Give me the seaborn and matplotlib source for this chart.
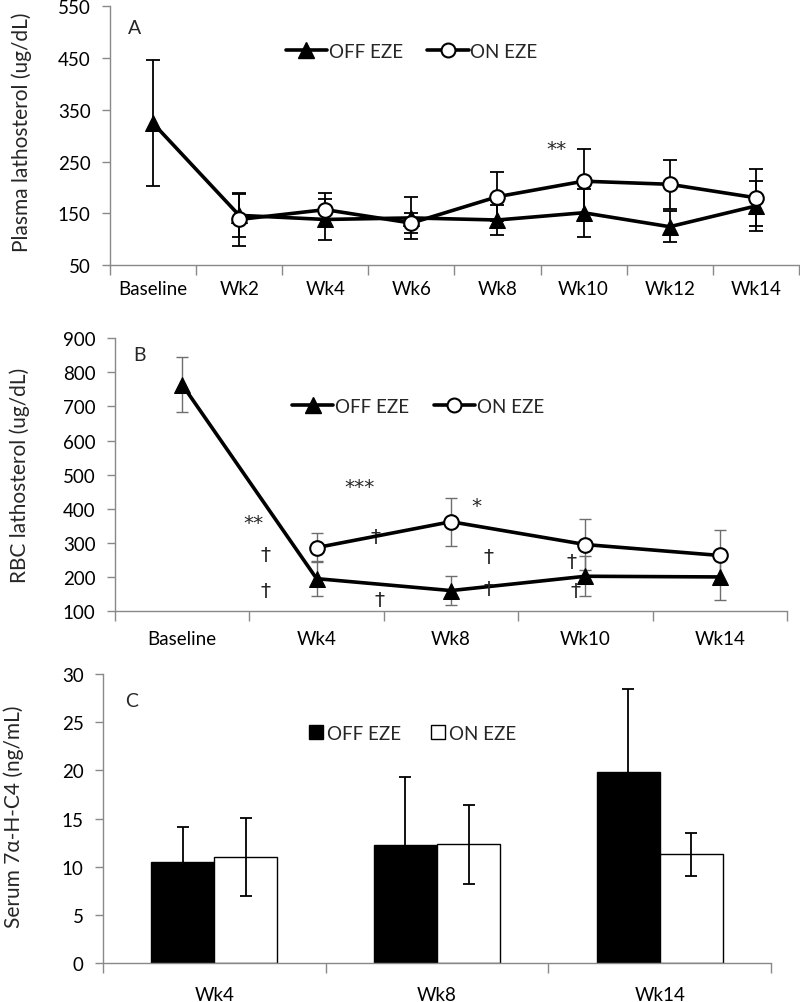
import numpy as np
import pandas as pd
import matplotlib
matplotlib.use("Agg")
import matplotlib.pyplot as plt
import seaborn as sns
from matplotlib.lines import Line2D
from matplotlib.patches import Patch
from matplotlib.ticker import FixedLocator, NullFormatter

# ---------------- data ----------------
A_weeks = ["Baseline", "Wk2", "Wk4", "Wk6", "Wk8", "Wk10", "Wk12", "Wk14"]
A_off = [324, 146, 138, 141, 137, 151, 124, 164]
A_off_err = [122, 42, 40, 40, 29, 46, 30, 49]
A_on = [np.nan, 138, 157, 131, 182, 212, 206, 180]
A_on_err = [np.nan, 51, 32, 20, 47, 63, 47, 55]
A_ann_text = ["**"]
A_ann_x = [4.69]
A_ann_y = [276]

B_weeks = ["Baseline", "Wk4", "Wk8", "Wk10", "Wk14"]
B_off = [764, 195, 160, 202, 200]
B_off_err = [80, 51, 42, 58, 69]
B_on = [np.nan, 286, 362, 295, 263]
B_on_err = [np.nan, 43, 70, 76, 75]
B_ann_text = ["**", "†", "†", "***", "†", "†", "*", "†", "†", "†", "†"]
B_ann_x = [0.53, 0.62, 0.62, 1.32, 1.44, 1.47, 2.19, 2.28, 2.28, 2.90, 2.93]
B_ann_y = [361, 266, 159, 466, 320, 134, 410, 261, 166, 244, 161]

C_weeks = ["Wk4", "Wk8", "Wk14"]
C_off = [10.47, 12.30, 19.88]
C_off_err = [3.70, 7.05, 8.57]
C_on = [10.99, 12.34, 11.30]
C_on_err = [4.05, 4.08, 2.22]

series_names = ["OFF EZE", "ON EZE"]

# ---------------- style ----------------
sns.set_style("white")
plt.rcParams["font.family"] = ["Lato", "DejaVu Sans"]
GRAY = "#898989"
FS = 13.5
LFS = 15
SYM_FONT = ["DejaVu Sans"]
SYM_FS = 14.5

fig = plt.figure(figsize=(8, 10.03), dpi=100)
axA = fig.add_axes([0.1375, 0.7348, 0.861, 0.2579])
axB = fig.add_axes([0.14375, 0.3898, 0.84, 0.2719])
axC = fig.add_axes([0.12875, 0.0386, 0.835, 0.2884])


def style_axis(ax, cats, ylim, yticks, xpad):
    ax.set_xlim(-0.5, len(cats) - 0.5)
    ax.set_ylim(*ylim)
    ax.set_yticks(yticks)
    ax.xaxis.set_major_locator(FixedLocator(np.arange(len(cats) + 1) - 0.5))
    ax.xaxis.set_major_formatter(NullFormatter())
    ax.xaxis.set_minor_locator(FixedLocator(np.arange(len(cats))))
    ax.set_xticklabels(cats, minor=True)
    ax.tick_params(axis="x", which="major", direction="out", length=7, width=1,
                   color=GRAY, bottom=True)
    ax.tick_params(axis="x", which="minor", length=0, bottom=True, labelbottom=True,
                   pad=xpad, labelsize=FS, labelcolor="black")
    ax.tick_params(axis="y", direction="out", length=6, width=1, color=GRAY,
                   left=True, pad=8, labelsize=FS, labelcolor="black")
    for s in ["top", "right"]:
        ax.spines[s].set_visible(False)
    for s in ["left", "bottom"]:
        ax.spines[s].set_color(GRAY)
        ax.spines[s].set_linewidth(1)
    ax.grid(False)


def line_panel(ax, cats, off, off_err, on, on_err, ebcolor, eblw, cap):
    x = np.arange(len(cats))
    off = np.array(off, float); on = np.array(on, float)
    m_off = ~np.isnan(off); m_on = ~np.isnan(on)
    ax.errorbar(x[m_off], off[m_off], yerr=np.array(off_err, float)[m_off], fmt="none",
                ecolor=ebcolor, elinewidth=eblw, capsize=cap, capthick=eblw, zorder=1.5)
    ax.errorbar(x[m_on], on[m_on], yerr=np.array(on_err, float)[m_on], fmt="none",
                ecolor=ebcolor, elinewidth=eblw, capsize=cap, capthick=eblw, zorder=1.5)
    sns.lineplot(x=x[m_off], y=off[m_off], ax=ax, color="black", linewidth=2.6,
                 marker="^", markersize=11, markerfacecolor="black",
                 markeredgecolor="black", zorder=3, legend=False)
    sns.lineplot(x=x[m_on], y=on[m_on], ax=ax, color="black", linewidth=2.6,
                 marker="o", markersize=10.5, markerfacecolor="white",
                 markeredgecolor="black", markeredgewidth=1.5, zorder=4, legend=False)
    handles = [
        Line2D([0], [0], color="black", lw=2.6, marker="^", markersize=11,
               markerfacecolor="black", markeredgecolor="black"),
        Line2D([0], [0], color="black", lw=2.6, marker="o", markersize=10,
               markerfacecolor="white", markeredgecolor="black", markeredgewidth=1.5),
    ]
    return handles


# ---------------- Panel A ----------------
hA = line_panel(axA, A_weeks, A_off, A_off_err, A_on, A_on_err, "black", 1.3, 5)
style_axis(axA, A_weeks, (50, 550), np.arange(50, 551, 100), 11)
axA.legend(hA, series_names, loc="center", bbox_to_anchor=(0.438, 0.826), ncol=2,
           frameon=False, fontsize=FS, handlelength=2.2, handletextpad=0.1,
           columnspacing=1.3)
axA.set_ylabel("Plasma lathosterol (ug/dL)", fontsize=LFS)
axA.yaxis.set_label_coords(-0.113, 0.517)
axA.text(0.036, 0.919, "A", transform=axA.transAxes, fontsize=14, ha="center", va="center")
for t, xx, yy in zip(A_ann_text, A_ann_x, A_ann_y):
    axA.text(xx, yy, t, fontsize=SYM_FS, family=SYM_FONT, ha="center", va="center")

# ---------------- Panel B ----------------
hB = line_panel(axB, B_weeks, B_off, B_off_err, B_on, B_on_err, "#6e6e6e", 1.0, 4.5)
style_axis(axB, B_weeks, (100, 900), np.arange(100, 901, 100), 14)
axB.legend(hB, series_names, loc="center", bbox_to_anchor=(0.451, 0.751), ncol=2,
           frameon=False, fontsize=FS, handlelength=2.2, handletextpad=0.1,
           columnspacing=1.3)
axB.set_ylabel("RBC lathosterol (ug/dL)", fontsize=LFS)
axB.yaxis.set_label_coords(-0.127, 0.50)
axB.text(0.037, 0.941, "B", transform=axB.transAxes, fontsize=14, ha="center", va="center")
for t, xx, yy in zip(B_ann_text, B_ann_x, B_ann_y):
    axB.text(xx, yy, t, fontsize=SYM_FS, family=SYM_FONT, ha="center", va="center")

# ---------------- Panel C ----------------
dfC = pd.DataFrame({
    "week": C_weeks * 2,
    "value": C_off + C_on,
    "group": [series_names[0]] * len(C_weeks) + [series_names[1]] * len(C_weeks),
})
sns.barplot(data=dfC, x="week", y="value", hue="group", order=C_weeks,
            hue_order=series_names, palette=["black", "white"], edgecolor="black",
            linewidth=1.0, width=0.566, gap=0, errorbar=None, ax=axC, legend=False,
            saturation=1)
bars = [p for p in axC.patches]
errs = C_off_err + C_on_err
for p, e in zip(bars, errs):
    cx = p.get_x() + p.get_width() / 2
    axC.errorbar([cx], [p.get_height()], yerr=[e], fmt="none", ecolor="black",
                 elinewidth=1.3, capsize=4.5, capthick=1.3, zorder=3)
style_axis(axC, C_weeks, (0, 30), np.arange(0, 31, 5), 16)
axC.set_xlabel("")
hC = [Patch(facecolor="black", edgecolor="black"),
      Patch(facecolor="white", edgecolor="black")]
axC.legend(hC, series_names, loc="center", bbox_to_anchor=(0.463, 0.796), ncol=2,
           frameon=False, fontsize=FS, handlelength=0.75, handleheight=0.75,
           handletextpad=0.2, columnspacing=1.6)
axC.set_ylabel("Serum 7α-H-C4 (ng/mL)", fontsize=LFS)
axC.yaxis.set_label_coords(-0.118, 0.51)
axC.text(0.043, 0.907, "C", transform=axC.transAxes, fontsize=14, ha="center", va="center")

fig.savefig("out.png", dpi=100)
